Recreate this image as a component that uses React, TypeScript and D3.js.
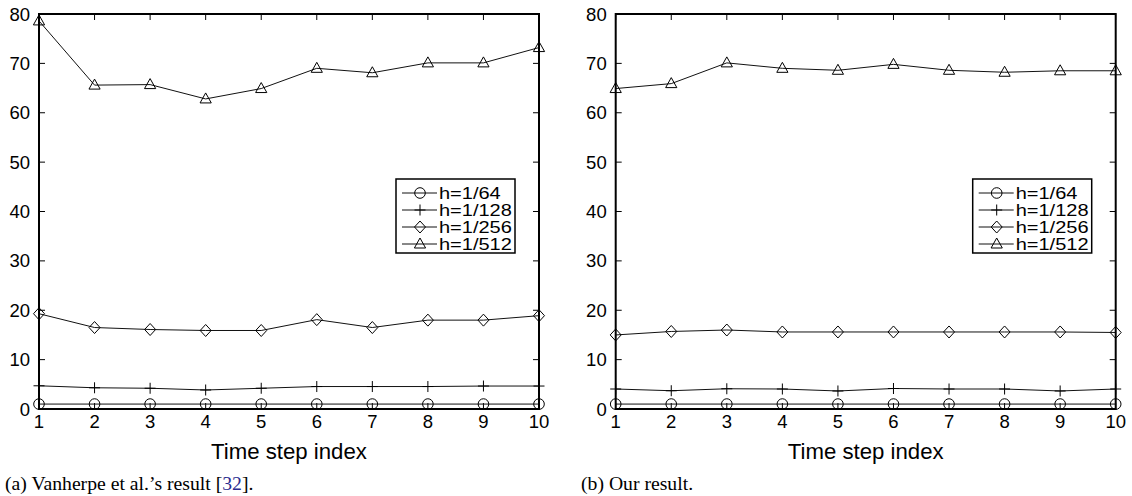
import React from "react";
import * as d3 from "d3";

const steps = [1, 2, 3, 4, 5, 6, 7, 8, 9, 10];
const yTicks = [0, 10, 20, 30, 40, 50, 60, 70, 80];
const seriesNames = ["h=1/64", "h=1/128", "h=1/256", "h=1/512"];
const markers = ["circle", "plus", "diamond", "triangle"];

const leftH64 = [1, 1, 1, 1, 1, 1, 1, 1, 1, 1];
const leftH128 = [4.7, 4.3, 4.2, 3.85, 4.2, 4.55, 4.55, 4.55, 4.65, 4.65];
const leftH256 = [19.3, 16.5, 16.1, 15.9, 15.9, 18.1, 16.5, 18.0, 18.0, 18.9];
const leftH512 = [78.6, 65.6, 65.7, 62.8, 64.9, 69.0, 68.1, 70.1, 70.1, 73.2];

const rightH64 = [1, 1, 1, 1, 1, 1, 1, 1, 1, 1];
const rightH128 = [4.05, 3.7, 4.1, 4.05, 3.65, 4.15, 4.05, 4.05, 3.65, 4.05];
const rightH256 = [15.0, 15.7, 16.0, 15.6, 15.6, 15.6, 15.6, 15.6, 15.6, 15.5];
const rightH512 = [64.9, 65.9, 70.1, 69.0, 68.6, 69.8, 68.6, 68.2, 68.5, 68.5];

const panels = [
  { left: 39, series: [leftH64, leftH128, leftH256, leftH512] },
  { left: 615.7, series: [rightH64, rightH128, rightH256, rightH512] },
];

const PW = 500;
const TOP = 14;
const BOTTOM = 409;
const FONT = "'Liberation Sans', Arial, Helvetica, sans-serif";

function markerPath(kind: string, x: number, y: number): string {
  if (kind === "circle") {
    const r = 5.3;
    return `M${x - r},${y}a${r},${r} 0 1,0 ${2 * r},0a${r},${r} 0 1,0 ${-2 * r},0`;
  }
  if (kind === "plus") {
    const s = 5.5;
    return `M${x - s},${y}H${x + s}M${x},${y - s}V${y + s}`;
  }
  if (kind === "diamond") {
    const w = 5.5, h = 6;
    return `M${x},${y - h}L${x + w},${y}L${x},${y + h}L${x - w},${y}Z`;
  }
  const w = 5.6, h = 10;
  return `M${x},${y - h * 0.6}L${x + w},${y + h * 0.4}L${x - w},${y + h * 0.4}Z`;
}

function Panel({ left, series }: { left: number; series: number[][] }) {
  const x = d3.scaleLinear().domain([1, 10]).range([left, left + PW]);
  const y = d3.scaleLinear().domain([0, 80]).range([BOTTOM, TOP]);
  const line = d3
    .line<number>()
    .x((_, i) => x(steps[i]))
    .y((d) => y(d));
  const tl = 6;
  const legX = left + 357;
  const legY = 179;
  return (
    <g>
      {yTicks.map((t) => (
        <g key={"y" + t}>
          <line x1={x(1)} x2={x(1) + tl} y1={y(t)} y2={y(t)} stroke="#000" strokeWidth={1} />
          <line x1={x(10)} x2={x(10) - tl} y1={y(t)} y2={y(t)} stroke="#000" strokeWidth={1} />
          <text x={x(1) - 9} y={y(t) + 6.5} textAnchor="end" fontFamily={FONT} fontSize={18.5} fill="#000">
            {t}
          </text>
        </g>
      ))}
      {steps.map((s) => (
        <g key={"x" + s}>
          <line x1={x(s)} x2={x(s)} y1={y(0)} y2={y(0) - tl} stroke="#000" strokeWidth={1} />
          <line x1={x(s)} x2={x(s)} y1={y(80)} y2={y(80) + tl} stroke="#000" strokeWidth={1} />
          <text x={x(s)} y={428} textAnchor="middle" fontFamily={FONT} fontSize={18.5} fill="#000">
            {s}
          </text>
        </g>
      ))}
      {series.map((vals, si) => (
        <g key={"s" + si}>
          <path d={line(vals) || ""} fill="none" stroke="#111" strokeWidth={1} />
          {vals.map((v, i) => (
            <path key={i} d={markerPath(markers[si], x(steps[i]), y(v))} fill="none" stroke="#000" strokeWidth={1} />
          ))}
        </g>
      ))}
      <rect x={x(1)} y={y(80)} width={x(10) - x(1)} height={y(0) - y(80)} fill="none" stroke="#000" strokeWidth={2} />
      <rect x={legX} y={legY} width={119} height={74} fill="#fff" stroke="#000" strokeWidth={1.5} />
      {seriesNames.map((name, si) => {
        const ry = 193 + si * 17;
        return (
          <g key={"l" + si}>
            <line x1={legX + 6} x2={legX + 41} y1={ry} y2={ry} stroke="#111" strokeWidth={1} />
            <path d={markerPath(markers[si], legX + 24, ry)} fill="none" stroke="#000" strokeWidth={1} />
            <text
              transform={`translate(${legX + 43},${ry + 6}) scale(1.25,1)`}
              fontFamily={FONT}
              fontSize={16}
              fill="#000"
            >
              {name}
            </text>
          </g>
        );
      })}
      <text x={left + PW / 2} y={459} textAnchor="middle" fontFamily={FONT} fontSize={22.2} fill="#000">
        Time step index
      </text>
    </g>
  );
}

export default function App() {
  const serif = "'Liberation Serif', 'DejaVu Serif', serif";
  return (
    <svg width={1132} height={496} style={{ position: "absolute", left: 0, top: 0, background: "#fff" }}>
      <rect width={1132} height={496} fill="#fff" />
      {panels.map((p, i) => (
        <Panel key={i} left={p.left} series={p.series} />
      ))}
      <text x={5} y={490} fontFamily={serif} fontSize={19.7} fill="#000">
        (a) Vanherpe et al.’s result [<tspan fill="#2b2b8f">32</tspan>].
      </text>
      <text x={581} y={490} fontFamily={serif} fontSize={19.7} fill="#000">
        (b) Our result.
      </text>
    </svg>
  );
}
